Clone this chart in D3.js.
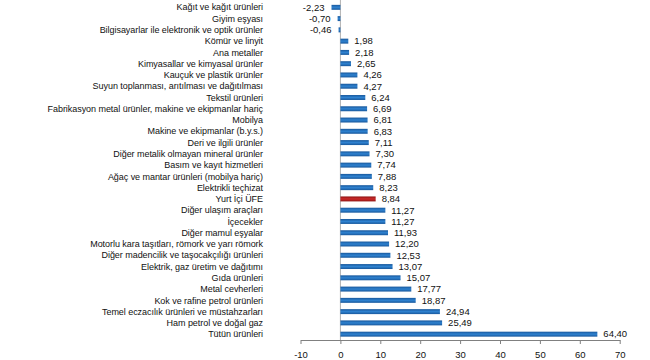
<!DOCTYPE html>
<html>
<head>
<meta charset="utf-8">
<script src="https://cdn.jsdelivr.net/npm/d3@7"></script>
<style>
  body { margin: 0; background: #fff; }
  svg { display: block; }
</style>
</head>
<body>
<svg id="chart" width="650" height="360"></svg>
<script>
const categories = [
  "Kağıt ve kağıt ürünleri",
  "Giyim eşyası",
  "Bilgisayarlar ile elektronik ve optik ürünler",
  "Kömür ve linyit",
  "Ana metaller",
  "Kimyasallar ve kimyasal ürünler",
  "Kauçuk ve plastik ürünler",
  "Suyun toplanması, arıtılması ve dağıtılması",
  "Tekstil ürünleri",
  "Fabrikasyon metal ürünler, makine ve ekipmanlar hariç",
  "Mobilya",
  "Makine ve ekipmanlar (b.y.s.)",
  "Deri ve ilgili ürünler",
  "Diğer metalik olmayan mineral ürünler",
  "Basım ve kayıt hizmetleri",
  "Ağaç ve mantar ürünleri (mobilya hariç)",
  "Elektrikli teçhizat",
  "Yurt İçi ÜFE",
  "Diğer ulaşım araçları",
  "İçecekler",
  "Diğer mamul eşyalar",
  "Motorlu kara taşıtları, römork ve yarı römork",
  "Diğer madencilik ve taşocakçılığı ürünleri",
  "Elektrik, gaz üretim ve dağıtımı",
  "Gıda ürünleri",
  "Metal cevherleri",
  "Kok ve rafine petrol ürünleri",
  "Temel eczacılık ürünleri ve müstahzarları",
  "Ham petrol ve doğal gaz",
  "Tütün ürünleri"
];
const values = [
  -2.23, -0.70, -0.46, 1.98, 2.18, 2.65, 4.26, 4.27, 6.24, 6.69,
  6.81, 6.83, 7.11, 7.30, 7.74, 7.88, 8.23, 8.84, 11.27, 11.27,
  11.93, 12.20, 12.53, 13.07, 15.07, 17.77, 18.87, 24.94, 25.49, 64.40
];
const highlight = ["Yurt İçi ÜFE"];
const xTicks = [-10, 0, 10, 20, 30, 40, 50, 60, 70];

const data = categories.map((c, i) => ({ cat: c, val: values[i] }));

const svg = d3.select("#chart");
const x = d3.scaleLinear().domain([-10, 70]).range([300.5, 619.7]);
const y = d3.scaleBand().domain(categories).range([1.7, 339.8]).paddingInner(0.56).paddingOuter(0.28);

const defs = svg.append("defs");
function grad(id, edge, mid) {
  const g = defs.append("linearGradient").attr("id", id)
    .attr("x1", 0).attr("y1", 0).attr("x2", 0).attr("y2", 1);
  g.append("stop").attr("offset", "0%").attr("stop-color", edge);
  g.append("stop").attr("offset", "50%").attr("stop-color", mid);
  g.append("stop").attr("offset", "100%").attr("stop-color", edge);
}
grad("gBlue", "#18589c", "#2f82d0");
grad("gRed", "#8e1414", "#cc2a2a");

// vertical axis line at 0
svg.append("line")
  .attr("x1", x(0)).attr("x2", x(0))
  .attr("y1", 0).attr("y2", 340)
  .attr("stroke", "#b0b0b0").attr("stroke-width", 1);

// bars
svg.append("g").selectAll("rect").data(data).join("rect")
  .attr("x", d => x(Math.min(0, d.val)))
  .attr("y", d => y(d.cat))
  .attr("width", d => Math.abs(x(d.val) - x(0)))
  .attr("height", y.bandwidth())
  .attr("fill", d => highlight.includes(d.cat) ? "url(#gRed)" : "url(#gBlue)");

// category labels
svg.append("g").selectAll("text").data(data).join("text")
  .attr("x", 263)
  .attr("y", d => y(d.cat) + y.bandwidth() / 2)
  .attr("dy", "0.35em")
  .attr("text-anchor", "end")
  .attr("font-family", "Liberation Sans, Arial, sans-serif")
  .attr("font-size", "9px")
  .attr("letter-spacing", "-0.05px")
  .attr("fill", "#111")
  .text(d => d.cat);

// value labels
const fmt = v => v.toFixed(2).replace(".", ",");
svg.append("g").selectAll("text").data(data).join("text")
  .attr("x", d => d.val < 0 ? x(d.val) - 7 : x(d.val) + 6)
  .attr("y", d => y(d.cat) + y.bandwidth() / 2)
  .attr("dy", "0.35em")
  .attr("text-anchor", d => d.val < 0 ? "end" : "start")
  .attr("font-family", "Liberation Sans, Arial, sans-serif")
  .attr("font-size", "9.5px")
  .attr("fill", "#111")
  .text(d => fmt(d.val));

// x axis
const xAxis = d3.axisBottom(x).tickValues(xTicks).tickSize(4).tickSizeOuter(0)
  .tickFormat(d => String(d));
const gx = svg.append("g").attr("transform", "translate(0,340)").call(xAxis);
gx.select(".domain").attr("stroke", "#808080");
gx.selectAll(".tick line").attr("stroke", "#808080");
gx.selectAll(".tick text")
  .attr("font-family", "Liberation Sans, Arial, sans-serif")
  .attr("font-size", "9.5px")
  .attr("fill", "#111")
  .attr("y", 11.5);
</script>
</body>
</html>
